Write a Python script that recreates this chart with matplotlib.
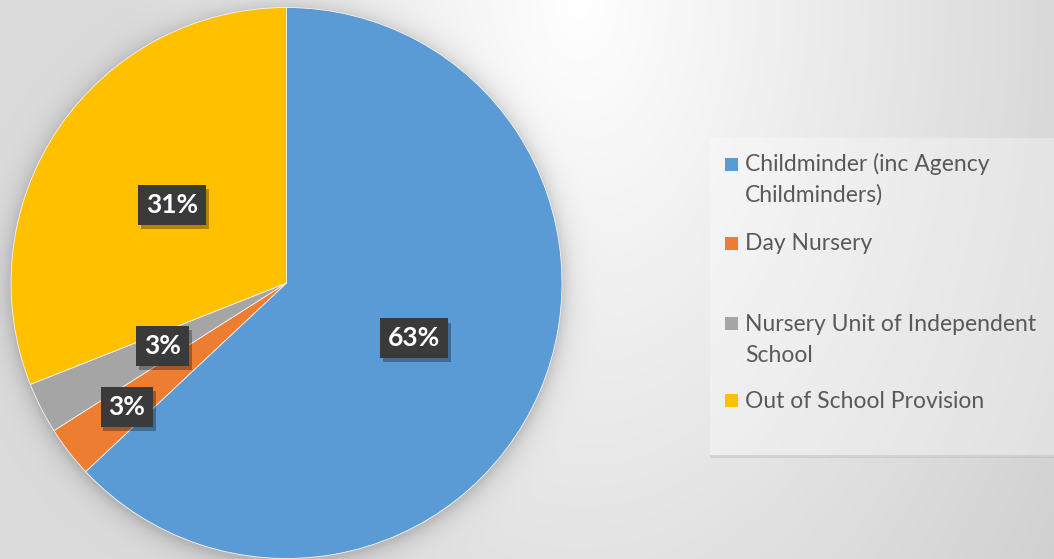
import numpy as np
import matplotlib
matplotlib.use("Agg")
import matplotlib.pyplot as plt
from matplotlib import patheffects as pe
from matplotlib.patches import Rectangle

# Provision types and their share of places (%)
categories = [
    "Childminder (inc Agency Childminders)",
    "Day Nursery",
    "Nursery Unit of Independent School",
    "Out of School Provision",
]
legend_lines = [
    ["Childminder (inc Agency", "Childminders)"],
    ["Day Nursery"],
    ["Nursery Unit of Independent", "School"],
    ["Out of School Provision"],
]
shares = [63, 3, 3, 31]
colors = ["#5B9BD5", "#ED7D31", "#A5A5A5", "#FFC000"]

W, H = 1054, 559
fig = plt.figure(figsize=(W / 100, H / 100), dpi=100)

# ---- background: soft radial gradient with a glow round the pie ----
bg = fig.add_axes([0, 0, 1, 1])
yy, xx = np.mgrid[0:H, 0:W] + 0.5
d = np.sqrt(((xx - 580) / 560) ** 2 + ((yy - 0) / 900) ** 2)
v = 1.0 - 0.20 * np.clip(d, 0, 1.15) / 1.15
v = np.where(xx < 580, np.maximum(v, 0.86), v)
cx, cy, R = 286.5, 283.0, 275.5
r = np.hypot(xx - cx, yy - (cy + 3))
glow = 0.17 * np.exp(-np.clip(r - R, 0, None) / 10.0)
v = v * (1 - glow)
bg.imshow(np.dstack([v, v, v]), extent=(0, W, H, 0), interpolation="bilinear",
          aspect="auto")
bg.set_xlim(0, W)
bg.set_ylim(H, 0)
bg.axis("off")

# legend panel
bg.add_patch(Rectangle((710, 138), 360, 319, facecolor="white", alpha=0.32,
                       edgecolor="none"))
bg.add_patch(Rectangle((710, 455), 360, 2.5, facecolor="#bdbdbd", alpha=0.5,
                       edgecolor="none"))

# ---- pie ----
pax = fig.add_axes([(cx - R) / W, (H - (cy + R)) / H, 2 * R / W, 2 * R / H])
wedges, _ = pax.pie(shares, colors=colors, startangle=90, counterclock=False,
                    radius=1.0,
                    wedgeprops=dict(edgecolor="#f4f4f4", linewidth=0.6))
pax.set_xlim(-1, 1)
pax.set_ylim(-1, 1)

label_dist = [0.505, 0.733, 0.505, 0.503]
for w, s, dist in zip(wedges, shares, label_dist):
    ang = np.deg2rad((w.theta1 + w.theta2) / 2)
    t = pax.text(dist * np.cos(ang), dist * np.sin(ang), f"{s}%",
                 ha="center", va="center", color="white", fontsize=19,
                 fontweight="bold", family="Lato",
                 bbox=dict(boxstyle="square,pad=0.3", fc="#3a3a3a", ec="none"))
    t.get_bbox_patch().set_path_effects(
        [pe.SimplePatchShadow(offset=(2, -3), shadow_rgbFace="k", alpha=0.3),
         pe.Normal()])

# ---- legend ----
square_y = [164, 243.5, 323.5, 400]
baselines = [[171, 202], [250], [331, 362], [408]]
for lines, col, sy, bl in zip(legend_lines, colors, square_y, baselines):
    bg.add_patch(Rectangle((725, sy - 6.5), 13, 13, facecolor=col,
                           edgecolor="none"))
    for line, y in zip(lines, bl):
        bg.text(745, y, line, ha="left", va="baseline", fontsize=16.5,
                color="#595959", family="Lato")

fig.savefig("out.png", dpi=100)
